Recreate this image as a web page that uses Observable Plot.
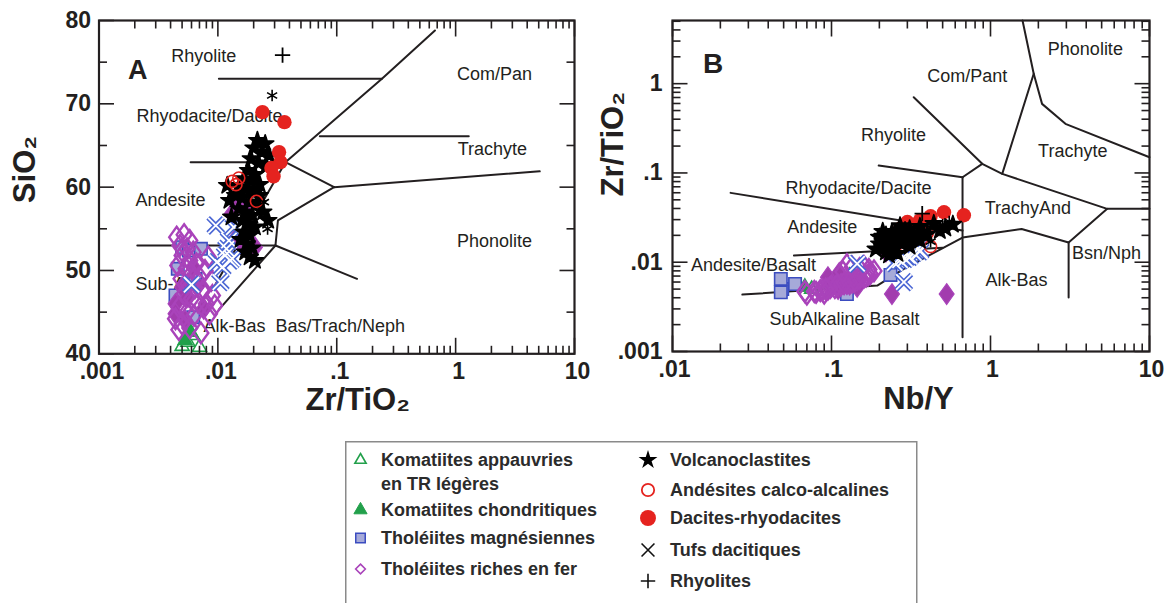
<!DOCTYPE html>
<html lang="fr">
<head>
<meta charset="utf-8">
<title>Diagrammes de Winchester et Floyd</title>
<script src="https://cdn.jsdelivr.net/npm/d3@7"></script>
<script src="https://cdn.jsdelivr.net/npm/@observablehq/plot@0.6"></script>
<style>
  html, body { margin: 0; padding: 0; background: #fff; }
  #figure { position: relative; width: 1169px; height: 603px; overflow: hidden; background: #fff;
            font-family: "Liberation Sans", Arial, Helvetica, sans-serif; }
  #panneauA { position: absolute; left: 0; top: 0; }
  #panneauB { position: absolute; left: 590px; top: 0; }
  #legende { position: absolute; left: 345px; top: 441px; }
</style>
</head>
<body>
<div id="figure">
  <div id="panneauA"></div>
  <div id="panneauB"></div>
  <div id="legende"></div>
</div>
<script>
// ---------- Échantillons : [Zr/TiO2, SiO2 (%), Nb/Y] ----------
const komatiitesAppauvries = [
  [0.0050, 40.9, 0.075], [0.0056, 41.4, 0.095], [0.0070, 40.8, 0.13], [0.0061, 42.2, 0.11]
];
const komatiitesChondritiques = [
  [0.0053, 41.6, 0.068], [0.0059, 42.6, 0.10]
];
const tholeiitesMagnesiennes = [
  [0.0050, 52.8, 0.049], [0.0057, 52.4, 0.059], [0.0072, 52.6, 0.235], [0.0046, 50.2, 0.048],
  [0.0065, 49.0, 0.048], [0.0062, 44.4, 0.125], [0.0044, 47.0, 0.125]
];
const tholeiitesFer = [
  [0.0045, 54.0, 0.090], [0.0052, 54.3, 0.105], [0.0058, 53.6, 0.120], [0.0048, 53.0, 0.085],
  [0.0055, 52.6, 0.110], [0.0062, 52.2, 0.140], [0.0050, 51.8, 0.095], [0.0058, 51.2, 0.125],
  [0.0066, 50.8, 0.150], [0.0046, 50.6, 0.080], [0.0054, 50.2, 0.100], [0.0060, 49.6, 0.130],
  [0.0070, 49.2, 0.165], [0.0049, 49.0, 0.088], [0.0056, 48.4, 0.115], [0.0064, 47.9, 0.145],
  [0.0074, 47.5, 0.175], [0.0052, 47.2, 0.098], [0.0060, 46.6, 0.135], [0.0068, 46.2, 0.160],
  [0.0080, 46.0, 0.185], [0.0047, 45.6, 0.078], [0.0055, 45.0, 0.108], [0.0063, 44.6, 0.140],
  [0.0044, 44.2, 0.070], [0.0050, 43.6, 0.092], [0.0058, 43.1, 0.120], [0.0085, 44.8, 0.150],
  [0.0072, 42.5, 0.170], [0.0047, 42.9, 0.068], [0.0090, 47.0, 0.160], [0.0078, 50.0, 0.118],
  [0.0088, 48.8, 0.135], [0.0094, 45.8, 0.125], [0.0083, 51.6, 0.172]
];
// tholéiites riches en fer figurées en symbole plein
const tholeiitesFerPleins = [
  [0.0131, 56.8, 0.22], [0.0145, 58.0, 0.24], [0.0141, 53.8, 0.29], [0.0160, 53.0, 0.27],
  [0.0175, 57.4, 0.245], [0.0205, 52.8, 0.30], [0.0044, 46.0, 0.24], [0.0044, 44.8, 0.53],
  [0.0050, 48.0, 0.11], [0.0056, 46.8, 0.13], [0.0062, 50.4, 0.105], [0.0053, 44.0, 0.145],
  [0.0068, 48.2, 0.095], [0.0076, 45.4, 0.112]
];
const volcanoclastites = [
  [0.0215, 65.6, 0.26], [0.0250, 65.2, 0.36], [0.0200, 64.7, 0.22], [0.0235, 64.2, 0.31],
  [0.0270, 63.8, 0.44], [0.0190, 63.4, 0.33], [0.0220, 62.9, 0.21], [0.0255, 62.5, 0.27],
  [0.0180, 62.0, 0.24], [0.0205, 61.5, 0.38], [0.0165, 61.0, 0.28], [0.0190, 60.6, 0.20],
  [0.0225, 60.3, 0.29], [0.0120, 60.2, 0.23], [0.0150, 60.0, 0.31], [0.0175, 59.7, 0.22],
  [0.0200, 59.3, 0.26], [0.0225, 59.0, 0.48], [0.0140, 59.0, 0.19], [0.0125, 58.4, 0.26],
  [0.0160, 58.7, 0.21], [0.0185, 58.2, 0.34], [0.0215, 58.0, 0.24], [0.0150, 57.4, 0.25],
  [0.0170, 57.0, 0.29], [0.0240, 57.0, 0.52], [0.0195, 56.6, 0.21], [0.0130, 56.4, 0.22],
  [0.0160, 56.0, 0.20], [0.0265, 56.0, 0.58], [0.0180, 55.6, 0.30], [0.0205, 55.2, 0.40],
  [0.0165, 54.6, 0.27], [0.0185, 54.2, 0.23], [0.0155, 53.7, 0.24], [0.0175, 53.2, 0.36],
  [0.0195, 52.7, 0.32], [0.0170, 52.2, 0.21], [0.0185, 51.6, 0.28], [0.0205, 51.2, 0.25]
];
const andesitesCalcoAlcalines = [
  [0.0132, 60.7, 0.23], [0.0150, 61.1, 0.42], [0.0142, 60.3, 0.25], [0.0211, 58.3, 0.40]
];
const dacitesRhyodacites = [
  [0.0237, 69.0, 0.27], [0.0363, 67.8, 0.51], [0.0327, 64.2, 0.42],
  [0.0336, 63.0, 0.68], [0.0282, 62.3, 0.30], [0.0294, 61.3, 0.36]
];
const tufsDacitiques = [
  [0.0096, 55.4, 0.145], [0.0136, 55.2, 0.36], [0.0124, 53.6, 0.27], [0.0118, 52.6, 0.30],
  [0.0127, 51.2, 0.33], [0.0132, 51.4, 0.36], [0.0098, 51.0, 0.25], [0.0109, 50.4, 0.29],
  [0.0115, 51.8, 0.31], [0.0105, 48.6, 0.27], [0.0060, 48.3, 0.285]
];
// échantillons hors légende (astérisques)
const autres = [
  [0.0286, 71.0, 0.55], [0.0244, 58.2, 0.42], [0.0262, 55.0, 0.50], [0.0170, 57.5, 0.42]
];
const rhyolites = [
  [0.035, 75.85, 0.372]
];

// ---------- Limites des champs : diagramme A (Zr/TiO2, SiO2) ----------
const limitesA = [
  [[0.0102, 73], [0.24, 73]],
  [[0.67, 78.8], [0.24, 73], [0.037, 63], [0.009, 47.7]],
  [[0.0059, 63], [0.037, 63]],
  [[0.037, 63], [0.095, 60]],
  [[0.072, 66.1], [1.29, 66.1]],
  [[0.095, 60], [5.1, 61.9]],
  [[0.095, 60], [0.032, 56], [0.0305, 53]],
  [[0.0021, 53], [0.0305, 53]],
  [[0.0305, 53], [0.0102, 45.3]],
  [[0.0305, 53], [0.148, 49]]
];
const champsA = [
  {nom: "Rhyolite", x: 0.0076, y: 75.7},
  {nom: "Com/Pan", x: 2.12, y: 73.6},
  {nom: "Rhyodacite/Dacite", x: 0.0085, y: 68.5},
  {nom: "Trachyte", x: 2.04, y: 64.5},
  {nom: "Andesite", x: 0.0040, y: 58.4},
  {nom: "Phonolite", x: 2.12, y: 53.5},
  {nom: "Sub-AB", x: 0.0037, y: 48.3},
  {nom: "Alk-Bas", x: 0.0138, y: 43.3},
  {nom: "Bas/Trach/Neph", x: 0.107, y: 43.3}
];

// ---------- Limites des champs : diagramme B (Nb/Y, Zr/TiO2) ----------
const limitesB = [
  [[1.59, 5.1], [1.87, 1.29], [2.11, 0.594], [2.96, 0.355], [10, 0.15]],
  [[1.87, 1.29], [1.185, 0.0977]],
  [[0.329, 0.704], [0.887, 0.1265], [1.185, 0.0977], [5.42, 0.0396], [10, 0.0396]],
  [[0.887, 0.1265], [0.667, 0.0895]],
  [[0.667, 0.0895], [0.667, 0.00144]],
  [[0.198, 0.121], [0.667, 0.0895]],
  [[0.0232, 0.0598], [0.667, 0.0226]],
  [[0.0275, 0.00434], [0.194, 0.00548], [0.285, 0.00843], [0.667, 0.0189], [1.57, 0.0236], [3.1, 0.0166], [5.42, 0.0396]],
  [[3.1, 0.0166], [3.1, 0.00403]],
  [[0.058, 0.0119], [0.5, 0.0145]]
];
const champsB = [
  {nom: "Phonolite", x: 3.95, y: 2.41},
  {nom: "Com/Pant", x: 0.714, y: 1.21},
  {nom: "Rhyolite", x: 0.2455, y: 0.262},
  {nom: "Trachyte", x: 3.29, y: 0.174},
  {nom: "Rhyodacite/Dacite", x: 0.148, y: 0.0669},
  {nom: "Andesite", x: 0.0874, y: 0.0248},
  {nom: "TrachyAnd", x: 1.72, y: 0.0405},
  {nom: "Andesite/Basalt", x: 0.0323, y: 0.00918},
  {nom: "Bsn/Nph", x: 5.37, y: 0.01268},
  {nom: "Alk-Bas", x: 1.457, y: 0.00624},
  {nom: "SubAlkaline Basalt", x: 0.1208, y: 0.00228}
];

// ---------- Graduations ----------
const ticksXA = [0.001, 0.01, 0.1, 1, 10];
const etiquettesXA = [".001", ".01", ".1", "1", "10"];
const ticksYA = [40, 50, 60, 70, 80];
const etiquettesYA = ["40", "50", "60", "70", "80"];
const ticksYAmineurs = [45, 55, 65, 75];
const ticksXB = [0.01, 0.1, 1, 10];
const etiquettesXB = [".01", ".1", "1", "10"];
const ticksYB = [0.001, 0.01, 0.1, 1];
const etiquettesYB = [".001", ".01", ".1", "1"];

// ---------- Style ----------
const ENCRE = "#231f20";
const POLICE = '"Liberation Sans", Arial, Helvetica, sans-serif';
const VERT = "#22a04b", BLEU = "#3b4cc0", LAVANDE = "#a6aad9", MAGENTA = "#a943ba",
      MAGENTA_PLEIN = "#a23cae", ROUGE = "#e5231f", BLEU_X = "#4a66d4";

// losange plus large que le symbole d3 par défaut
const losange = {
  draw(ctx, size) {
    const h = Math.sqrt(size / 1.44), w = 0.72 * h;
    ctx.moveTo(0, -h); ctx.lineTo(w, 0); ctx.lineTo(0, h); ctx.lineTo(-w, 0); ctx.closePath();
  }
};

// symbole « trait » : segment partant du point d'ancrage, de longueur fixe en pixels
const trait = (dx, dy) => ({
  draw(ctx) { ctx.moveTo(0, 0); ctx.lineTo(dx, dy); }
});

// graduations logarithmiques secondaires (2..9 dans chaque décade)
function mineursLog(majeurs, extra = []) {
  const v = [];
  for (let i = 0; i < majeurs.length - 1; i++) for (let k = 2; k <= 9; k++) v.push(k * majeurs[i]);
  return v.concat(extra);
}

// graduations intérieures sur les quatre côtés du cadre
function graduations(xMaj, xMin, yMaj, yMin) {
  const GX = 16, gx = 8, GY = 15, gy = 8;
  const s = {r: 2, fill: "none", stroke: ENCRE, strokeWidth: 1.6};
  const enX = (vals, ancre, l) => Plot.dot(vals, {x: d => d, frameAnchor: ancre, symbol: trait(0, ancre === "top" ? l : -l), ...s});
  const enY = (vals, ancre, l) => Plot.dot(vals, {y: d => d, frameAnchor: ancre, symbol: trait(ancre === "left" ? l : -l, 0), ...s});
  return [
    enX(xMaj, "top", GX), enX(xMaj, "bottom", GX), enX(xMin, "top", gx), enX(xMin, "bottom", gx),
    enY(yMaj, "left", GY), enY(yMaj, "right", GY), enY(yMin, "left", gy), enY(yMin, "right", gy)
  ];
}

function segments(limites) {
  return limites.flatMap((seg, i) => seg.map(([x, y]) => ({x, y, seg: i})));
}

// symboles des échantillons ; px/py choisissent les colonnes du tableau
function points(px, py, ordreRouge) {
  const P = (data, o) => Plot.dot(data, {x: d => d[px], y: d => d[py], ...o});
  const rouges = [
    P(andesitesCalcoAlcalines, {symbol: "circle", r: 6, fill: "none", stroke: ROUGE, strokeWidth: 1.6}),
    P(dacitesRhyodacites, {symbol: "circle", r: 7.2, fill: ROUGE, stroke: "none"})
  ];
  const etoiles = [P(volcanoclastites, {symbol: "star", r: 5.4, fill: "#000", stroke: "#000", strokeWidth: 1.6, strokeLinejoin: "round"})];
  return [
    P(komatiitesAppauvries, {symbol: "triangle", r: 5.2, fill: "#fff", stroke: VERT, strokeWidth: 1.6}),
    P(komatiitesChondritiques, {symbol: "triangle", r: 5.2, fill: VERT, stroke: VERT}),
    P(tholeiitesMagnesiennes, {symbol: "square", r: 7, fill: LAVANDE, stroke: BLEU, strokeWidth: 1.6}),
    P(tholeiitesFerPleins, {symbol: losange, r: 7, fill: MAGENTA_PLEIN, stroke: MAGENTA, strokeWidth: 1.2}),
    P(tholeiitesFer, {symbol: losange, r: 7, fill: "none", stroke: MAGENTA, strokeWidth: 2.4}),
    P(tufsDacitiques, {symbol: "times", r: 7, stroke: BLEU_X, strokeWidth: 5}),
    P(tufsDacitiques, {symbol: "times", r: 7, stroke: "#fff", strokeWidth: 1.8}),
    ...(ordreRouge === "dessus" ? [...etoiles, ...rouges] : [...rouges, ...etoiles]),
    P(autres, {symbol: "asterisk", r: 5.5, stroke: "#000", strokeWidth: 1.6}),
    P(rhyolites, {symbol: "plus", r: 5, stroke: "#000", strokeWidth: 1.8})
  ];
}

const texteChamp = {fontSize: 18, fill: ENCRE, fontFamily: POLICE};
const texteGrad = {fontSize: 23, fontWeight: "bold", fill: ENCRE, fontFamily: POLICE};
const texteTitre = {fontSize: 31, fontWeight: "bold", fill: ENCRE, fontFamily: POLICE};

// ---------- Diagramme A : SiO2 vs Zr/TiO2 ----------
{
  const W = 590, H = 430, m = {top: 20, right: 16, bottom: 76.7, left: 98.5};
  const plot = Plot.plot({
    width: W, height: H,
    marginTop: m.top, marginRight: m.right, marginBottom: m.bottom, marginLeft: m.left,
    style: {fontFamily: POLICE, background: "transparent", overflow: "visible"},
    x: {type: "log", domain: [0.001, 10], axis: null},
    y: {type: "linear", domain: [40, 80], axis: null},
    marks: [
      Plot.text(champsA, {x: "x", y: "y", text: "nom", ...texteChamp}),
      Plot.line(segments(limitesA), {x: "x", y: "y", z: "seg", stroke: ENCRE, strokeWidth: 2}),
      ...points(0, 1, "dessus"),
      ...graduations(ticksXA, mineursLog(ticksXA), ticksYA, ticksYAmineurs),
      Plot.frame({stroke: ENCRE, strokeWidth: 2.2}),
      Plot.text(["A"], {text: d => d, frameAnchor: "top-left", dx: 29, dy: 39, fontSize: 27, fontWeight: "bold", fill: ENCRE, fontFamily: POLICE}),
      Plot.text(ticksXA, {x: d => d, text: (d, i) => etiquettesXA[i], frameAnchor: "bottom", dx: 3, dy: 25, ...texteGrad}),
      Plot.text(ticksYA, {y: d => d, text: (d, i) => etiquettesYA[i], frameAnchor: "left", dx: -8, textAnchor: "end", ...texteGrad}),
      Plot.text(["SiO₂"], {text: d => d, frameAnchor: "left", dx: -73.5, dy: 16, rotate: -90, ...texteTitre}),
      Plot.text(["Zr/TiO₂"], {text: d => d, frameAnchor: "bottom", dx: 21, dy: 56, ...texteTitre})
    ]
  });
  document.getElementById("panneauA").append(plot);
}

// ---------- Diagramme B : Zr/TiO2 vs Nb/Y ----------
{
  const W = 579, H = 430, m = {top: 20, right: 20, bottom: 79, left: 82};
  const plot = Plot.plot({
    width: W, height: H,
    marginTop: m.top, marginRight: m.right, marginBottom: m.bottom, marginLeft: m.left,
    style: {fontFamily: POLICE, background: "transparent", overflow: "visible"},
    x: {type: "log", domain: [0.01, 10], axis: null},
    y: {type: "log", domain: [0.001, 5.1], axis: null},
    marks: [
      Plot.text(champsB, {x: "x", y: "y", text: "nom", ...texteChamp}),
      Plot.line(segments(limitesB), {x: "x", y: "y", z: "seg", stroke: ENCRE, strokeWidth: 2}),
      ...points(2, 0, "dessous"),
      ...graduations(ticksXB, mineursLog(ticksXB), ticksYB, mineursLog(ticksYB, [2, 3, 4, 5])),
      Plot.frame({stroke: ENCRE, strokeWidth: 2.2}),
      Plot.text(["B"], {text: d => d, frameAnchor: "top-left", dx: 30.5, dy: 33, fontSize: 28, fontWeight: "bold", fill: ENCRE, fontFamily: POLICE}),
      Plot.text(ticksXB, {x: d => d, text: (d, i) => etiquettesXB[i], frameAnchor: "bottom", dx: 2, dy: 25, ...texteGrad}),
      Plot.text(ticksYB, {y: d => d, text: (d, i) => etiquettesYB[i], frameAnchor: "left", dx: -10, textAnchor: "end", ...texteGrad}),
      Plot.text(["Zr/TiO₂"], {text: d => d, frameAnchor: "left", dx: -59, dy: 10.5, rotate: -90, ...texteTitre}),
      Plot.text(["Nb/Y"], {text: d => d, frameAnchor: "bottom", dx: 7.5, dy: 57, ...texteTitre})
    ]
  });
  document.getElementById("panneauB").append(plot);
}

// ---------- Légende ----------
{
  const colonneGauche = [
    {lignes: ["Komatiites appauvries", "en TR légères"], symbole: d3.symbolTriangle, taille: 55, fill: "#fff", stroke: VERT, sw: 1.6},
    {lignes: ["Komatiites chondritiques"], symbole: d3.symbolTriangle, taille: 75, fill: VERT, stroke: VERT, sw: 1},
    {lignes: ["Tholéiites magnésiennes"], symbole: d3.symbolSquare, taille: 90, fill: LAVANDE, stroke: BLEU, sw: 1.5},
    {lignes: ["Tholéiites riches en fer"], symbole: d3.symbolDiamond2, taille: 60, fill: "#fff", stroke: MAGENTA, sw: 1.6}
  ];
  const colonneDroite = [
    {lignes: ["Volcanoclastites"], symbole: d3.symbolStar, taille: 110, fill: "#000", stroke: "none", sw: 0},
    {lignes: ["Andésites calco-alcalines"], symbole: d3.symbolCircle, taille: 120, fill: "#fff", stroke: ROUGE, sw: 1.8},
    {lignes: ["Dacites-rhyodacites"], symbole: d3.symbolCircle, taille: 200, fill: ROUGE, stroke: "none", sw: 0},
    {lignes: ["Tufs dacitiques"], symbole: d3.symbolTimes, taille: 110, fill: "none", stroke: "#111", sw: 1.6},
    {lignes: ["Rhyolites"], symbole: d3.symbolPlus, taille: 70, fill: "none", stroke: "#111", sw: 1.6}
  ];
  const rangsGauche = [19, 69, 97, 128], interligne = 24;
  const rangsDroite = [19, 49, 77, 109, 140];

  const svg = d3.select("#legende").append("svg")
    .attr("width", 574).attr("height", 170)
    .style("font-family", POLICE).style("overflow", "visible");
  svg.append("rect").attr("x", 0.75).attr("y", 0.75).attr("width", 571).attr("height", 190)
    .attr("fill", "#fff").attr("stroke", "#8a8a8a").attr("stroke-width", 1.5);

  function colonne(entrees, rangs, xSym, xTexte) {
    entrees.forEach((e, i) => {
      const y = rangs[i];
      svg.append("path")
        .attr("d", d3.symbol(e.symbole, e.taille)())
        .attr("transform", `translate(${xSym},${y})`)
        .attr("fill", e.fill).attr("stroke", e.stroke).attr("stroke-width", e.sw);
      e.lignes.forEach((l, j) => {
        svg.append("text").attr("x", xTexte).attr("y", y + j * interligne).attr("dy", "0.36em")
          .attr("font-size", 18).attr("font-weight", "bold").attr("fill", "#2b2b2b").text(l);
      });
    });
  }
  colonne(colonneGauche, rangsGauche, 15.5, 36);
  colonne(colonneDroite, rangsDroite, 303, 325);
}
</script>
</body>
</html>
